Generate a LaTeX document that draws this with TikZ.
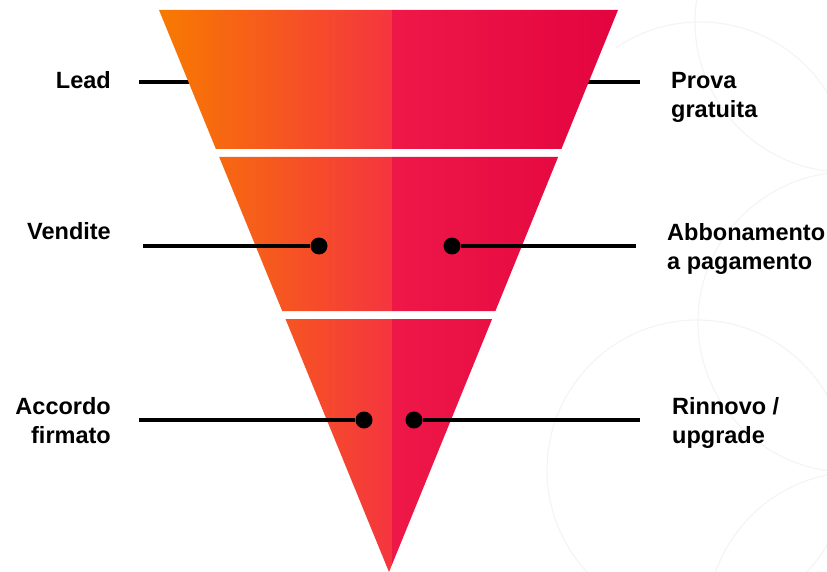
\documentclass[tikz,border=0pt]{standalone}
\usepackage{xcolor}
\usepackage{fontspec}
\setmainfont{Liberation Sans}
\usepackage{tikz}
\usetikzlibrary{positioning}
\definecolor{funorange}{HTML}{F77A00}
\definecolor{funcoral}{HTML}{F5353F}
\definecolor{funpink}{HTML}{EE1848}
\definecolor{funcrimson}{HTML}{E3043F}
\definecolor{ringgray}{HTML}{F4F4F4}

\begin{document}
\begin{tikzpicture}[x=1pt,y=-1pt]
\tikzstyle{stagetext} = [font=\bfseries\fontsize{23.5}{29}\selectfont, inner sep=0pt, text=black]
\tikzstyle{stagedot} = [circle, fill=black, inner sep=0pt, minimum size=17pt]
\tikzstyle{connector} = [line width=3.5pt]
\tikzstyle{ring} = [draw=ringgray, line width=1.2pt]

\useasboundingbox (0,0) rectangle (827,572);

% faint rings in the background
\begin{scope}
\clip (0,0) rectangle (827,572);
\foreach \cx/\cy in {845/22, 848/322, 697/470, 857/622}
  \draw [ring] (\cx,\cy) circle (150pt);
\draw [ring] (700,172) ++(124:150pt) arc (124:0:150pt);
\end{scope}

% short connectors of the top band, half hidden by the funnel
\coordinate (leadTip) at (139,82);
\coordinate (leadEdge) at (200,82);
\coordinate (provaTip) at (640,82);
\coordinate (provaEdge) at (576,82);
\draw [connector] (leadTip) -- (leadEdge);
\draw [connector] (provaEdge) -- (provaTip);

% funnel bands
\coordinate (b1tl) at (159,10);
\coordinate (b1tr) at (618,10);
\coordinate (b1br) at (561.4,149);
\coordinate (b1bl) at (215.9,149);
\coordinate (b2tl) at (219.2,157);
\coordinate (b2tr) at (558.1,157);
\coordinate (b2br) at (495.4,311);
\coordinate (b2bl) at (282.2,311);
\coordinate (b3tl) at (285.5,319);
\coordinate (b3tr) at (492.1,319);
\coordinate (apex) at (389,572);

\begin{scope}
\clip (b1tl) -- (b1tr) -- (b1br) -- (b1bl) -- cycle
      (b2tl) -- (b2tr) -- (b2br) -- (b2bl) -- cycle
      (b3tl) -- (b3tr) -- (apex) -- cycle;
\shade [left color=funorange, right color=funcoral] (159,10) rectangle (392.5,572);
\shade [left color=funpink, right color=funcrimson] (392,10) rectangle (618,572);
\end{scope}

% dots and long connectors
\node (vendDot) [stagedot] at (319,246) {};
\node (abboDot) [stagedot] at (452,246) {};
\node (accDot) [stagedot] at (364,420) {};
\node (rinnDot) [stagedot] at (414,420) {};

\coordinate (vendTip) at (143,246);
\coordinate (abboTip) at (636,246);
\coordinate (accTip) at (139,420);
\coordinate (rinnTip) at (640,420);

\draw [connector] (vendTip) -- (vendDot);
\draw [connector] (abboDot) -- (abboTip);
\draw [connector] (accTip) -- (accDot);
\draw [connector] (rinnDot) -- (rinnTip);

% labels
\node (lead) [stagetext, anchor=east] at (111,80) {Lead};
\node (vend) [stagetext, anchor=east] at (111,231) {Vendite};
\node (acc) [stagetext, anchor=north east, align=right] at (111,397) {Accordo\\firmato};
\node (prova) [stagetext, anchor=north west, align=left] at (671,72) {Prova\\gratuita};
\node (abbo) [stagetext, anchor=north west, align=left] at (667,223) {Abbonamento\\a pagamento};
\node (rinn) [stagetext, anchor=north west, align=left] at (672,397) {Rinnovo /\\upgrade};
\end{tikzpicture}
\end{document}
